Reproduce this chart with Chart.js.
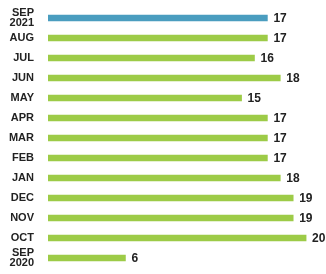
<!DOCTYPE html>
<html><head><meta charset="utf-8">
<script src="https://cdn.jsdelivr.net/npm/chart.js@4"></script>
<style>html,body{margin:0;padding:0;background:#fff}#w{width:326px;height:274px}</style>
</head><body><div id="w"><canvas id="c"></canvas></div>
<script>
const categories = [["SEP","2021"],"AUG","JUL","JUN","MAY","APR","MAR","FEB","JAN","DEC","NOV","OCT",["SEP","2020"]];
const values = [17,17,16,18,15,17,17,17,18,19,19,20,6];
const barColors = ["#4a9dbf","#9dcb47","#9dcb47","#9dcb47","#9dcb47","#9dcb47","#9dcb47","#9dcb47","#9dcb47","#9dcb47","#9dcb47","#9dcb47","#9dcb47"];

const valueLabels = {
  id:'valueLabels',
  afterDatasetsDraw(chart){
    const ctx=chart.ctx; const meta=chart.getDatasetMeta(0);
    ctx.save(); ctx.font='bold 12px "Liberation Sans", Arial, sans-serif'; ctx.fillStyle='#222';
    ctx.textBaseline='middle'; ctx.textAlign='left';
    meta.data.forEach((b,i)=>{ ctx.fillText(String(values[i]), b.x+6, b.y+1); });
    ctx.restore();
  }
};
new Chart(document.getElementById('c'),{
  type:'bar',
  data:{labels:categories,datasets:[{data:values,backgroundColor:barColors,barThickness:6,borderWidth:0}]},
  options:{
    indexAxis:'y',responsive:true,maintainAspectRatio:false,animation:false,
    layout:{padding:{top:8,bottom:6,right:7,left:0}},
    plugins:{legend:{display:false},tooltip:{enabled:false}},
    scales:{
      x:{display:false,min:0,max:21},
      y:{grid:{display:false},border:{display:false},
        afterFit(s){s.width=48;s.paddingTop=0;s.paddingBottom=0;},
        ticks:{autoSkip:false,padding:6,color:'#222',font:{family:'"Liberation Sans", Arial, sans-serif',size:11,weight:'bold',lineHeight:0.95}}}
    }
  },
  plugins:[valueLabels]
});
</script></body></html>
